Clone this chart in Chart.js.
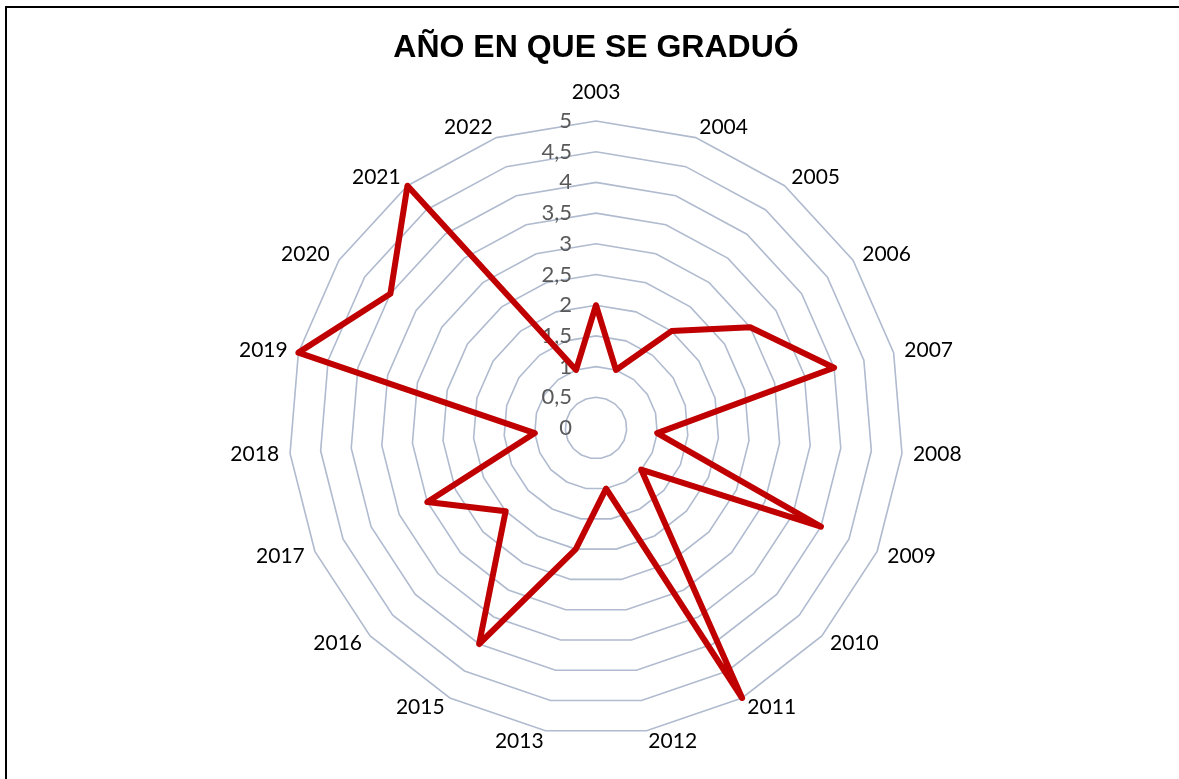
<!DOCTYPE html>
<html>
<head>
<meta charset="utf-8">
<script src="https://cdn.jsdelivr.net/npm/chart.js@4/dist/chart.umd.min.js"></script>
<style>
  html, body { margin: 0; padding: 0; background: #fff; overflow: hidden; }
  #frame { position: absolute; left: 5px; top: 6px; width: 1300px; height: 900px;
           border-left: 2px solid #000; border-top: 2px solid #000; }
  #wrap { position: absolute; left: 0; top: 0; width: 1179px; height: 779px; }
</style>
</head>
<body>
<div id="frame"></div>
<div id="wrap"><canvas id="gradChart" width="1179" height="779"></canvas></div>
<script>
const years = ["2003", "2004", "2005", "2006", "2007", "2008", "2009", "2010", "2011", "2012",
  "2013", "2015", "2016", "2017", "2018", "2019", "2020", "2021", "2022"];
const graduates = [2, 1, 2, 3, 4, 1, 4, 1, 5, 1, 2, 4, 2, 3, 1, 5, 4, 5, 1];

// tick labels left of the vertical axis (0 included) and year labels
// vertically centred beside each corner, the way Excel places them
const radarText = {
  id: "radarText",
  beforeDatasetsDraw(chart) {
    const r = chart.scales.r;
    const ctx = chart.ctx;
    ctx.save();
    ctx.font = "22px Lato";
    ctx.fillStyle = "#595959";
    ctx.textAlign = "right";
    ctx.textBaseline = "middle";
    r.ticks.forEach(t => {
      const d = r.getDistanceFromCenterForValue(t.value);
      ctx.fillText(t.label, r.xCenter - 24, r.yCenter - d);
    });

    ctx.font = "21px Lato";
    ctx.fillStyle = "#000";
    chart.data.labels.forEach((lbl, i) => {
      const a = r.getIndexAngle(i);
      const s = Math.sin(a);
      const c = Math.cos(a);
      if (Math.abs(s) < 0.05) {
        const p = r.getPointPosition(i, r.drawingArea + 18);
        ctx.textAlign = "center";
        ctx.textBaseline = c > 0 ? "bottom" : "top";
        ctx.fillText(lbl, p.x, p.y);
      } else {
        const p = r.getPointPosition(i, r.drawingArea + 11);
        ctx.textAlign = s > 0 ? "left" : "right";
        ctx.textBaseline = "middle";
        ctx.fillText(lbl, p.x, p.y);
      }
    });
    ctx.restore();
  }
};

new Chart(document.getElementById("gradChart").getContext("2d"), {
  type: "radar",
  data: {
    labels: years,
    datasets: [
      {
        label: "Graduados",
        data: graduates,
        borderColor: "#c00000",
        borderWidth: 6,
        borderJoinStyle: "round",
        backgroundColor: "transparent",
        fill: false,
        pointRadius: 0,
        tension: 0
      }
    ]
  },
  options: {
    responsive: false,
    animation: false,
    layout: { padding: { left: 13, right: 0, top: 0, bottom: 44 } },
    plugins: {
      legend: { display: false },
      tooltip: { enabled: false },
      title: {
        display: true,
        text: "AÑO EN QUE SE GRADUÓ",
        color: "#000",
        font: { family: "Liberation Sans", size: 32, weight: "bold" },
        padding: { top: 29, bottom: 53.6 }
      }
    },
    scales: {
      r: {
        min: 0,
        max: 5,
        ticks: {
          stepSize: 0.5,
          display: false,
          callback: v => String(v).replace(".", ",")
        },
        grid: { color: "#b0bbcf", lineWidth: 1.6, circular: false },
        angleLines: { display: false },
        pointLabels: { display: false }
      }
    }
  },
  plugins: [radarText]
});
</script>
</body>
</html>
